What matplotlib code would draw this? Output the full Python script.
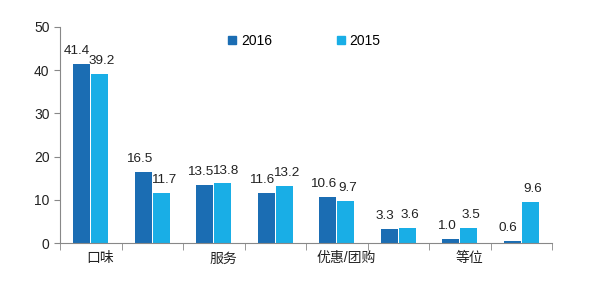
"""Grouped bar chart: 2016 vs 2015 by category."""

import matplotlib
matplotlib.use("Agg")
import matplotlib.pyplot as plt
import matplotlib.transforms as mtransforms
import numpy as np
from matplotlib.lines import Line2D

plt.rcParams["font.family"] = ["Liberation Sans", "Noto Sans CJK SC", "DejaVu Sans"]

categories = ["口味", "", "服务", "", "优惠/团购", "", "等位", ""]
values_2016 = [41.4, 16.5, 13.5, 11.6, 10.6, 3.3, 1.0, 0.6]
values_2015 = [39.2, 11.7, 13.8, 13.2, 9.7, 3.6, 3.5, 9.6]
series_names = ["2016", "2015"]
yticks = [0, 10, 20, 30, 40, 50]

c16 = "#1b6db3"
c15 = "#19aee6"
axis_gray = "#888888"
text_col = "#222222"

fig = plt.figure(figsize=(6.0, 2.84), dpi=100)
ax = fig.add_axes([0.1, 0.144, 0.82, 0.761])

x = np.arange(len(categories)) + 0.5
w = 0.275
x16 = x - w / 2 - 0.01
x15 = x + w / 2 + 0.01
ax.bar(x16, values_2016, width=w, color=c16, zorder=2)
ax.bar(x15, values_2015, width=w, color=c15, zorder=2)

# value labels: 2016 nudged a bit left, as in the source chart
for xi, v in zip(x16, values_2016):
    ax.annotate(f"{v:.1f}", (xi, v), xytext=(-3.2, 5), textcoords="offset points",
                ha="center", va="bottom", fontsize=9.7, color=text_col)
for xi, v in zip(x15, values_2015):
    ax.annotate(f"{v:.1f}", (xi, v), xytext=(1.6, 5), textcoords="offset points",
                ha="center", va="bottom", fontsize=9.7, color=text_col)

ax.set_xlim(0, len(categories))
ax.set_ylim(0, 50)
ax.set_yticks(yticks)
ax.tick_params(axis="y", labelsize=10, colors=text_col, length=4, color=axis_gray)
ax.set_xticks(x)
ax.set_xticklabels(categories, fontsize=10, color=text_col)
ax.tick_params(axis="x", length=0, pad=6)
ax.set_xticks(np.arange(len(categories) + 1), minor=True)
ax.tick_params(axis="x", which="minor", length=5, color=axis_gray)

shift = mtransforms.ScaledTranslation(7 / 72, 0, fig.dpi_scale_trans)
for lbl in ax.get_xticklabels():
    lbl.set_transform(lbl.get_transform() + shift)

for s in ["top", "right"]:
    ax.spines[s].set_visible(False)
for s in ["left", "bottom"]:
    ax.spines[s].set_color(axis_gray)

handles = [Line2D([], [], marker="s", linestyle="none", markersize=6, color=c)
           for c in (c16, c15)]
fig.legend(handles, series_names, loc="center", bbox_to_anchor=(0.505, 0.855),
           ncol=2, frameon=False, fontsize=10, handletextpad=0.1,
           columnspacing=4.5, handlelength=1.0)

fig.savefig("out.png", dpi=100)
